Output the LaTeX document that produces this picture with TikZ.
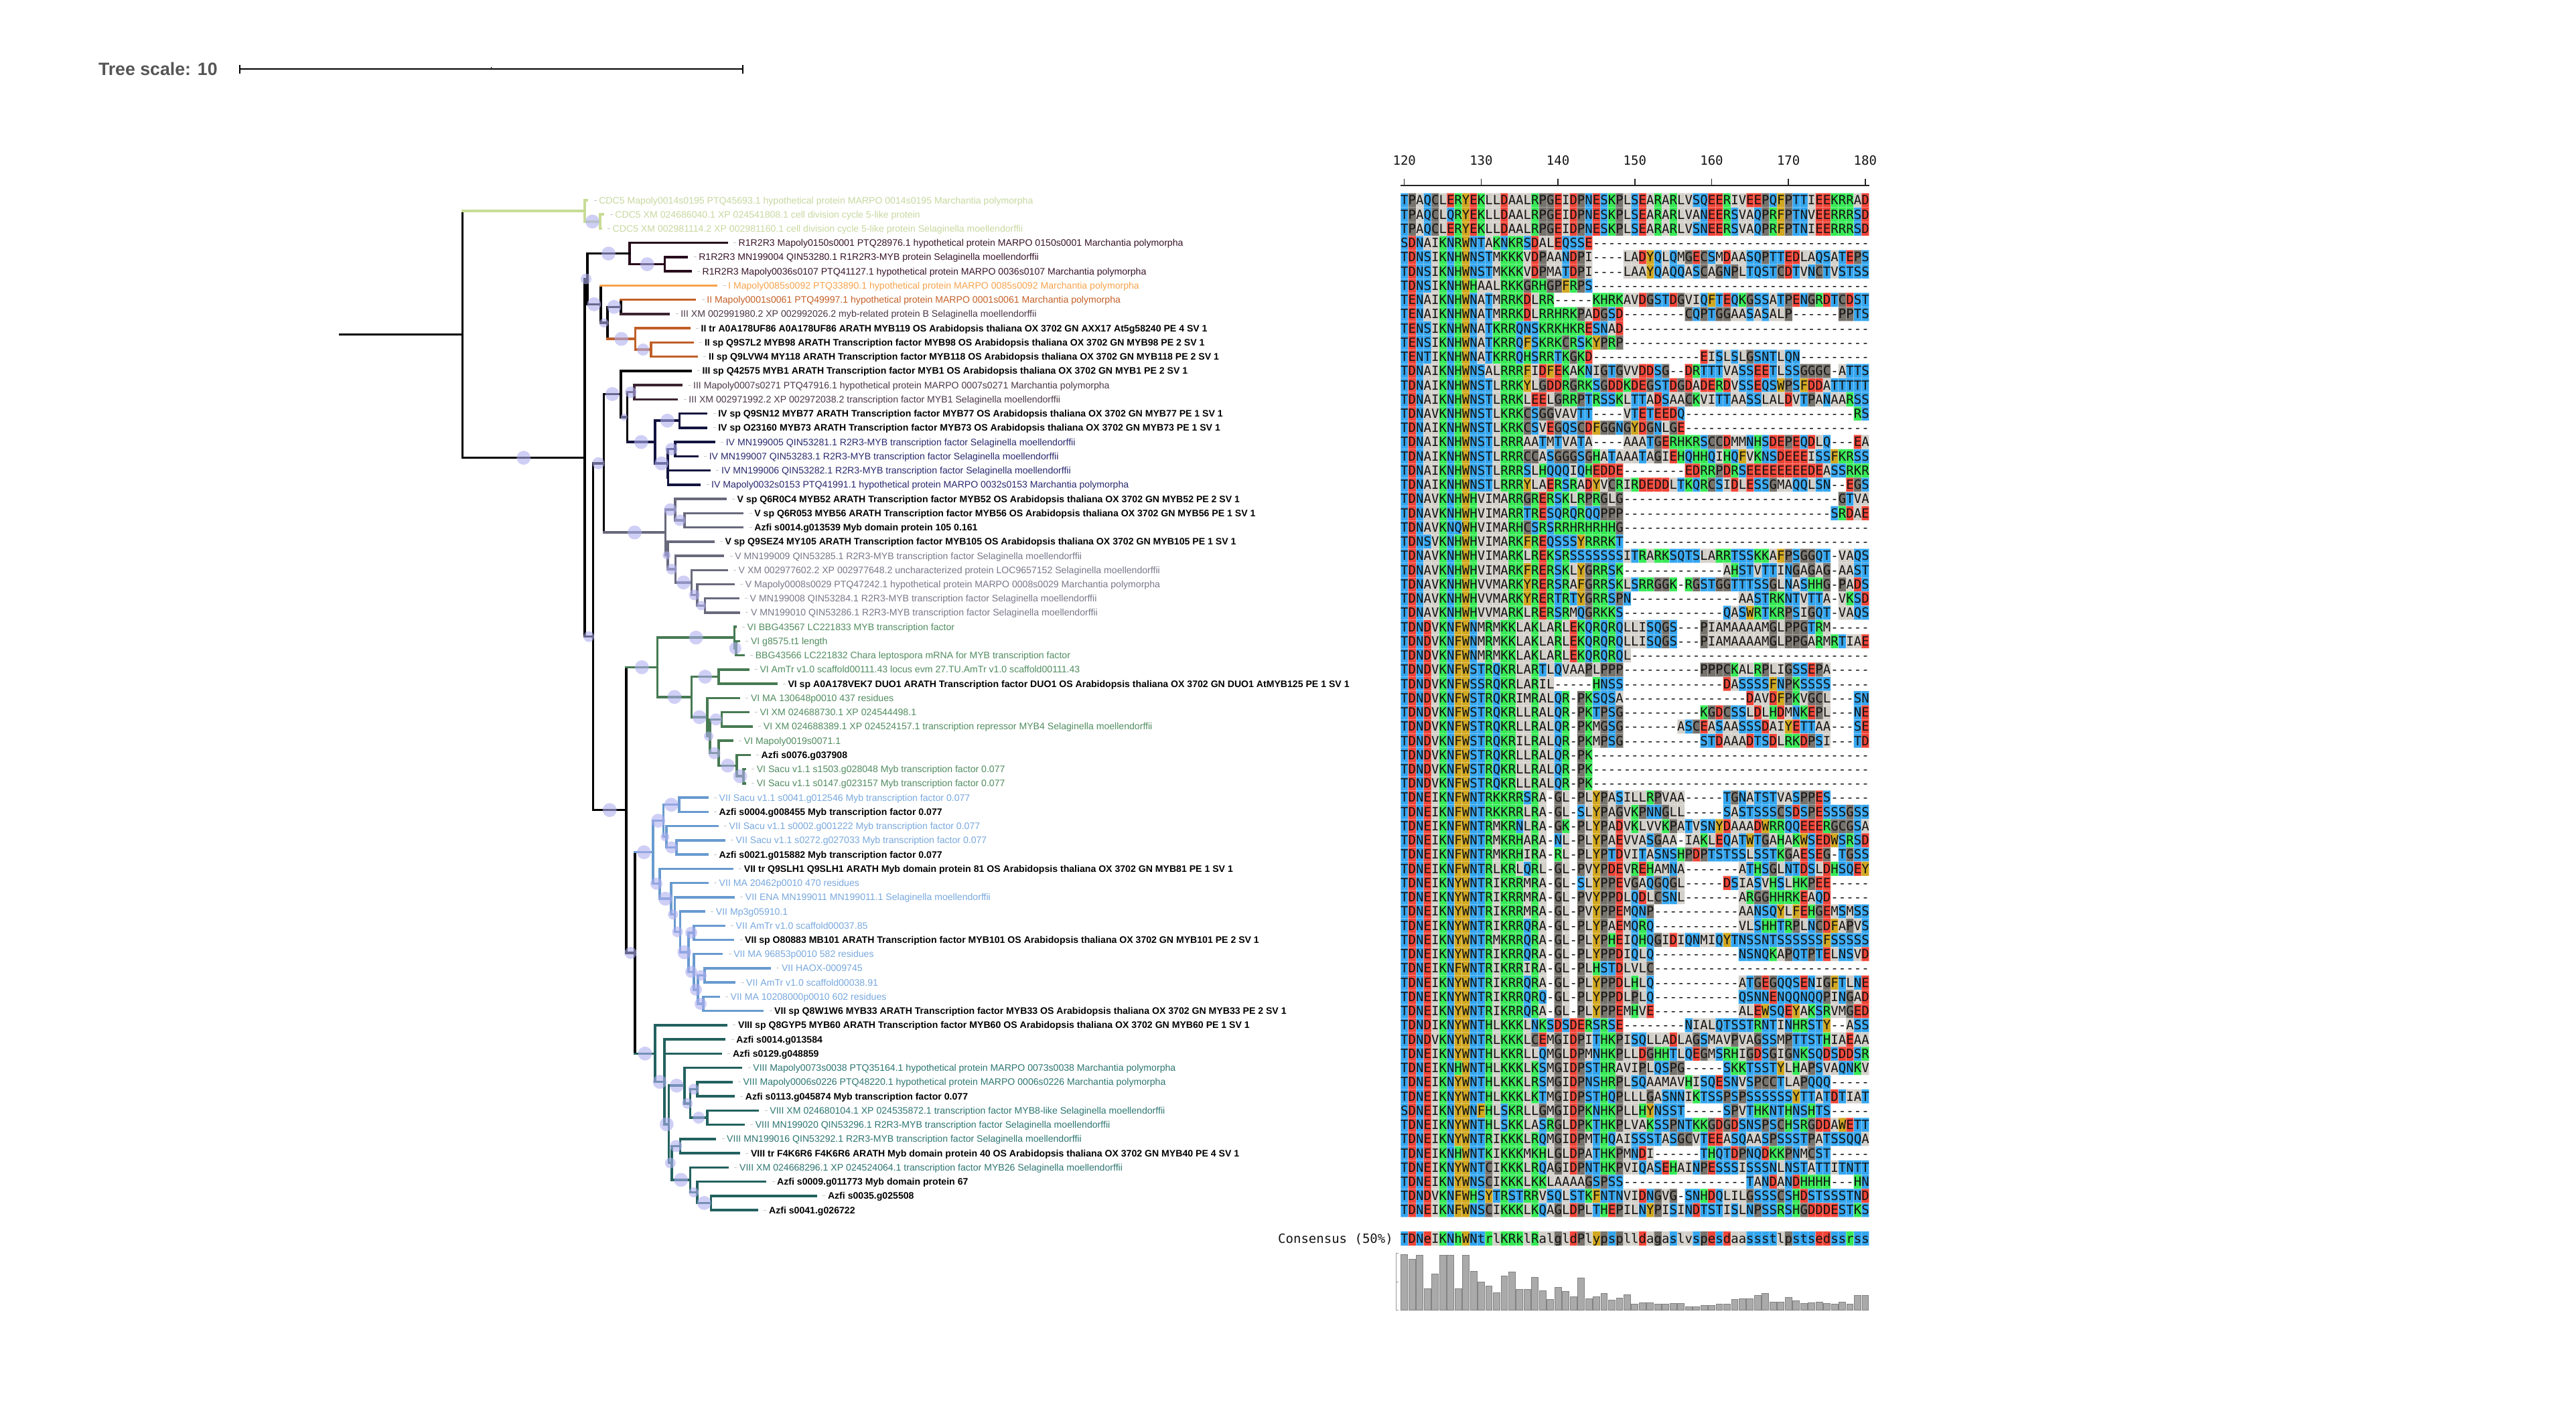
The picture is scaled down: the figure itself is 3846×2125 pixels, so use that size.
\documentclass[tikz,border=0pt]{standalone}
\usepackage{fontspec}
\setmainfont{Liberation Sans}
\newfontfamily\alnfont{DejaVu Sans Mono}
\usetikzlibrary{calc}
\pgfdeclarelayer{cells}
\pgfsetlayers{cells,main}

% branch and label colours of the clades
\definecolor{c5br}{RGB}{200,220,150}
\definecolor{c5lab}{RGB}{200,216,160}
\definecolor{rrbr}{RGB}{40,10,28}
\definecolor{rrlab}{RGB}{55,20,40}
\definecolor{oIc}{RGB}{247,163,76}
\definecolor{oIIc}{RGB}{196,96,40}
\definecolor{iiibr}{RGB}{60,36,50}
\definecolor{iiilab}{RGB}{75,55,70}
\definecolor{iitwo}{RGB}{192,95,40}
\definecolor{ivbr}{RGB}{20,20,64}
\definecolor{ivlab}{RGB}{40,40,110}
\definecolor{vbr}{RGB}{105,105,125}
\definecolor{vlab}{RGB}{120,120,138}
\definecolor{vibr}{RGB}{70,122,82}
\definecolor{vilab}{RGB}{80,140,95}
\definecolor{viibr}{RGB}{104,154,207}
\definecolor{viilab}{RGB}{120,168,222}
\definecolor{viiibr}{RGB}{34,98,95}
\definecolor{viiilab}{RGB}{45,118,114}
\definecolor{suppc}{RGB}{175,175,240}
\definecolor{scalegray}{RGB}{85,85,85}
% residue colours
\definecolor{alnB}{RGB}{52,166,240}
\definecolor{alnR}{RGB}{241,68,55}
\definecolor{alnG}{RGB}{54,234,86}
\definecolor{alnY}{RGB}{210,168,32}
\definecolor{alnL}{RGB}{211,208,202}
\definecolor{alnK}{RGB}{118,114,108}
\definecolor{alntext}{RGB}{20,20,20}
\definecolor{barfill}{RGB}{170,170,170}
\definecolor{barline}{RGB}{130,130,130}

% residue -> colour table
\def\alnmap#1#2{\expandafter\def\csname alncol#1\endcsname{#2}}
\alnmap{S}{alnB}\alnmap{T}{alnB}\alnmap{N}{alnB}\alnmap{Q}{alnB}
\alnmap{D}{alnR}\alnmap{E}{alnR}
\alnmap{K}{alnG}\alnmap{R}{alnG}\alnmap{H}{alnG}
\alnmap{F}{alnY}\alnmap{W}{alnY}\alnmap{Y}{alnY}
\alnmap{A}{alnL}\alnmap{V}{alnL}\alnmap{L}{alnL}\alnmap{I}{alnL}\alnmap{M}{alnL}
\alnmap{P}{alnK}\alnmap{G}{alnK}\alnmap{C}{alnK}
\alnmap{s}{alnB}\alnmap{t}{alnB}\alnmap{n}{alnB}\alnmap{q}{alnB}
\alnmap{d}{alnR}\alnmap{e}{alnR}
\alnmap{k}{alnG}\alnmap{r}{alnG}\alnmap{h}{alnG}
\alnmap{f}{alnY}\alnmap{w}{alnY}\alnmap{y}{alnY}
\alnmap{a}{alnL}\alnmap{v}{alnL}\alnmap{l}{alnL}\alnmap{i}{alnL}\alnmap{m}{alnL}
\alnmap{p}{alnK}\alnmap{g}{alnK}\alnmap{c}{alnK}

% alignment: runs of equal colour are collected per colour and filled
% once at the end; the letters of a row are set in one node.
% \gp{n} inserts n gap columns.
\newcount\alnc
\newcount\alnstart
\def\gp{}
\def\alnnone{none}
\gdef\alnlistalnB{}\gdef\alnlistalnR{}\gdef\alnlistalnG{}
\gdef\alnlistalnY{}\gdef\alnlistalnL{}\gdef\alnlistalnK{}
\def\alnbox#1{\hbox to 11.468pt{\hss#1\hss}}
\def\alnflush{%
  \ifx\alnrun\alnnone\else
    \pgfmathsetmacro\alnxa{\the\alnstart*11.468+2091}%
    \pgfmathsetmacro\alnxb{\the\alnc*11.468+2091}%
    \pgfmathsetmacro\alnya{\alny-10.62}%
    \pgfmathsetmacro\alnyb{\alny+10.62}%
    \expandafter\xdef\csname alnlist\alnrun\endcsname{\csname alnlist\alnrun\endcsname (\alnxa,\alnya) rectangle (\alnxb,\alnyb)}%
  \fi}
\def\alncell#1{%
  \ifcsname alncol#1\endcsname\edef\alnthis{\csname alncol#1\endcsname}\else\def\alnthis{none}\fi
  \ifx\alnthis\alnrun\else\alnflush\global\let\alnrun\alnthis\global\alnstart=\alnc\fi
  \xdef\alntxt{\unexpanded\expandafter{\alntxt}\noexpand\alnbox{#1}}%
  \global\advance\alnc by 1\relax}
\def\alnparse#1{%
  \ifx#1\relax\let\alnnext\relax
  \else\ifx#1\gp\let\alnnext\alngapread
  \else\alncell{#1}\let\alnnext\alnparse\fi\fi
  \alnnext}
\def\alngapread#1{\foreach \alnk in {1,...,#1}{\alncell{-}}\alnparse}
\newcommand\alnrowat[2]{%
  \xdef\alny{#1}\global\alnc=0 \global\alnstart=0 \gdef\alnrun{none}\gdef\alntxt{}%
  \alnparse#2\relax\alnflush
  \node[alnlet,anchor=base west] at (2091,\alny+6.9) {\alntxt};}
\newcommand\alnrow[2]{\pgfmathsetmacro\alnyy{299+(#1-1)*21.24}\alnrowat{\alnyy}{#2}}

% tree helpers
\newcommand\treetip[3]{\coordinate (#1) at (#2,{299+(#3-1)*21.24});}
\newcommand\treenode[4]{\coordinate (#1m) at ($(#3)!.5!(#4)$);\coordinate (#1) at (#2,0 |- #1m);}
\newcommand\nodebar[4]{\draw[#1] (#2 |- #3) -- (#2 |- #4);}
\newcommand\branch[3]{\draw[#1] (#2 |- #3) -- (#3);}
\newcommand\support[3][10.4]{\fill[supp] ($(#2 |- #3)!.5!(#3)$) circle[radius=#1pt];}
\newcommand\leaflabel[3]{%
  \draw[labdash] ([xshift=10pt]#1) -- ([xshift=14pt]#1);
  \node[leaf,#2] at ([xshift=17.5pt,yshift=-5pt]#1) {#3};}

\begin{document}
\begin{tikzpicture}[x=1pt,y=-1pt,
  br/.style={line width=3.5pt,line cap=rect},
  k/.style={br,black},
  c5/.style={br,c5br}, rr/.style={br,rrbr}, oI/.style={br,oIc}, oII/.style={br,oIIc},
  iii/.style={br,iiibr}, ii2/.style={br,iitwo}, iv/.style={br,ivbr}, v/.style={br,vbr},
  vi/.style={br,vibr}, vii/.style={br,viibr}, viii/.style={br,viiibr},
  supp/.style={fill=suppc,fill opacity=.6},
  leaf/.style={anchor=base west,inner sep=0pt,font=\fontsize{14.1}{16}\selectfont},
  bl/.style={font=\fontsize{14.1}{16}\selectfont\bfseries,text=black},
  lc5/.style={text=c5lab}, lrr/.style={text=rrlab}, loI/.style={text=oIc}, loII/.style={text=oIIc},
  liii/.style={text=iiilab}, liv/.style={text=ivlab}, lv/.style={text=vlab},
  lvi/.style={text=vilab}, lvii/.style={text=viilab}, lviii/.style={text=viiilab},
  labdash/.style={line width=1pt,black!22},
  alnlet/.style={font=\alnfont\fontsize{19}{21}\selectfont,inner sep=0pt,anchor=base,text=alntext},
  hbar/.style={fill=barfill,draw=barline,line width=.8pt}]
\useasboundingbox (0,0) rectangle (3846,2125);
\begin{pgfonlayer}{cells}
\fill[white] (0,0) rectangle (3846,2125);
\end{pgfonlayer}

% ---------- tree scale ----------
\node[anchor=base west,inner sep=0pt,text=scalegray,font=\fontsize{26.7}{30}\selectfont\bfseries] (scaletxt) at (146.8,112.6) {Tree scale: 10};
\coordinate (sb0) at (358,103.3);
\coordinate (sb1) at (1108.6,103.3);
\coordinate (sbm) at ($(sb0)!.5!(sb1)$);
\draw[line width=2.2pt] (sb0) -- (sb1);
\draw[line width=2pt] ([yshift=6pt]sb0) -- ([yshift=-7pt]sb0);
\draw[line width=2pt] ([yshift=6pt]sb1) -- ([yshift=-7pt]sb1);
\draw[line width=1.5pt] ([yshift=3.5pt]sbm) -- (sbm);

% ---------- leaves ----------
\treetip{t1}{876.6}{1}\treetip{t2}{900.7}{2}\treetip{t3}{897}{3}
\treetip{t4}{1085}{4}\treetip{t5}{1025.6}{5}\treetip{t6}{1031}{6}
\treetip{t7}{1069.5}{7}\treetip{t8}{1037.7}{8}\treetip{t9}{998.6}{9}
\treetip{t10}{1029}{10}\treetip{t11}{1034.3}{11}\treetip{t12}{1040.4}{12}
\treetip{t13}{1031}{13}\treetip{t14}{1017.4}{14}\treetip{t15}{1010.7}{15}
\treetip{t16}{1054.6}{16}\treetip{t17}{1054.6}{17}\treetip{t18}{1066.1}{18}
\treetip{t19}{1041.1}{19}\treetip{t20}{1059.4}{20}\treetip{t21}{1044.5}{21}
\treetip{t22}{1083}{22}\treetip{t23}{1108.7}{23}\treetip{t24}{1108.7}{24}
\treetip{t25}{1064.8}{25}\treetip{t26}{1079.6}{26}\treetip{t27}{1085}{27}
\treetip{t28}{1095.2}{28}\treetip{t29}{1102}{29}\treetip{t30}{1103.3}{30}
\treetip{t31}{1097.9}{31}\treetip{t32}{1103.3}{32}\treetip{t33}{1110.1}{33}
\treetip{t34}{1116.8}{34}\treetip{t35}{1158.8}{35}\treetip{t36}{1103.3}{36}
\treetip{t37}{1116.8}{37}\treetip{t38}{1122.2}{38}\treetip{t39}{1093.2}{39}
\treetip{t40}{1118.9}{40}\treetip{t41}{1112.1}{41}\treetip{t42}{1112.1}{42}
\treetip{t43}{1056}{43}\treetip{t44}{1056}{44}\treetip{t45}{1070.9}{45}
\treetip{t46}{1081}{46}\treetip{t47}{1056}{47}\treetip{t48}{1093.2}{48}
\treetip{t49}{1056}{49}\treetip{t50}{1095.2}{50}\treetip{t51}{1051.2}{51}
\treetip{t52}{1081}{52}\treetip{t53}{1094.5}{53}\treetip{t54}{1077.6}{54}
\treetip{t55}{1149.3}{55}\treetip{t56}{1096.5}{56}\treetip{t57}{1072.9}{57}
\treetip{t58}{1138.5}{58}\treetip{t59}{1084.4}{59}\treetip{t60}{1081.7}{60}
\treetip{t61}{1076.3}{61}\treetip{t62}{1106.7}{62}\treetip{t63}{1091.8}{63}
\treetip{t64}{1095.2}{64}\treetip{t65}{1131.7}{65}\treetip{t66}{1110.1}{66}
\treetip{t67}{1067.5}{67}\treetip{t68}{1103.3}{68}\treetip{t69}{1086.4}{69}
\treetip{t70}{1142.5}{70}\treetip{t71}{1218.3}{71}\treetip{t72}{1130.4}{72}

% ---------- internal nodes (children first) ----------
\treenode{cB}{896}{t2}{t3}
\treenode{cA}{872.9}{t1}{cB}
\treenode{Rb}{992.5}{t5}{t6}
\treenode{Rn}{940}{t4}{Rb}
\treenode{K}{927.1}{t8}{t9}
\treenode{Lb}{971.8}{t11}{t12}
\treenode{L}{948.6}{t10}{Lb}
\treenode{J}{906.8}{K}{L}
\treenode{I2}{896.8}{t7}{J}
\treenode{P}{877}{Rn}{I2}
\treenode{N5}{947}{t14}{t15}
\treenode{IVa}{1014.6}{t16}{t17}
\treenode{IVc}{1007.9}{t18}{t19}
\treenode{IVd}{997.5}{t20}{t21}
\treenode{IVb}{997}{IVc}{IVd}
\treenode{IV}{978.2}{IVa}{IVb}
\treenode{N4}{936.4}{N5}{IV}
\treenode{N3}{927.1}{t13}{N4}
\treenode{Y1}{1022}{t23}{t24}
\treenode{Y2}{1007.9}{t22}{Y1}
\treenode{Z1}{1052.7}{t29}{t30}
\treenode{Z2}{1041}{t28}{Z1}
\treenode{Z3}{1032.4}{t27}{Z2}
\treenode{Z4}{1008.7}{t26}{Z3}
\treenode{Z5}{997}{t25}{Z4}
\treenode{Vn}{993.6}{Y2}{Z5}
\treenode{M}{901.4}{N3}{Vn}
\treenode{C2}{1099}{t32}{t33}
\treenode{C1}{1096.6}{t31}{C2}
\treenode{E}{1073}{t34}{t35}
\treenode{H}{1077.7}{t37}{t38}
\treenode{G4}{1110}{t41}{t42}
\treenode{G3}{1100}{t40}{G4}
\treenode{G2}{1073}{t39}{G3}
\treenode{G}{1060}{H}{G2}
\treenode{F}{1056}{t36}{G}
\treenode{D}{1032.4}{E}{F}
\treenode{VI}{981.7}{C1}{D}
\treenode{V1}{1014}{t43}{t44}
\treenode{V3}{1010}{t46}{t47}
\treenode{V2b}{995}{t45}{V3}
\treenode{V2}{990.5}{V1}{V2b}
\treenode{W1}{1036}{t52}{t53}
\treenode{W2}{1052}{t55}{t56}
\treenode{W3}{1050}{t57}{t58}
\treenode{W23}{1042}{W2}{W3}
\treenode{W4}{1036}{t54}{W23}
\treenode{W5}{1028}{W1}{W4}
\treenode{W6}{1015.5}{t51}{W5}
\treenode{W7}{1007.4}{t50}{W6}
\treenode{W8}{1002}{t49}{W7}
\treenode{W9}{985}{t48}{W8}
\treenode{VIIa}{975}{V2}{W9}
\treenode{X1}{1041}{t63}{t64}
\treenode{X2}{1056}{t65}{t66}
\treenode{X3}{1030.4}{X1}{X2}
\treenode{X4}{1022}{t62}{X3}
\treenode{X5}{1015.5}{t67}{t68}
\treenode{X6}{1061.5}{t71}{t72}
\treenode{X7}{1041}{t70}{X6}
\treenode{X8}{1030.4}{t69}{X7}
\treenode{X9}{1003}{X5}{X8}
\treenode{X10}{998.6}{X4}{X9}
\treenode{X11}{992}{t60}{X10}
\treenode{VIII}{978}{t59}{X11}
\treenode{T}{948}{VIIa}{VIII}
\treenode{Rr}{935}{VI}{T}
\treenode{Q}{885.4}{M}{Rr}
\treenode{S}{872.9}{P}{Q}
\treenode{root}{690.7}{cA}{S}
\coordinate (stub) at (507.9,0 |- root);

% ---------- vertical bars of the internal nodes ----------
\nodebar{k}{root}{cA}{S}
\nodebar{c5}{cA}{t1}{cB}\nodebar{c5}{cB}{t2}{t3}
\nodebar{k}{S}{P}{Q}\nodebar{k}{P}{Rn}{I2}
\nodebar{rr}{Rn}{t4}{Rb}\nodebar{rr}{Rb}{t5}{t6}
\nodebar{k}{I2}{t7}{J}\nodebar{k}{J}{K}{L}\nodebar{k}{K}{t8}{t9}
\nodebar{ii2}{L}{t10}{Lb}\nodebar{ii2}{Lb}{t11}{t12}
\nodebar{k}{Q}{M}{Rr}\nodebar{k}{M}{N3}{Vn}\nodebar{k}{N3}{t13}{N4}\nodebar{k}{N4}{N5}{IV}
\nodebar{iii}{N5}{t14}{t15}
\nodebar{iv}{IV}{IVa}{IVb}\nodebar{iv}{IVa}{t16}{t17}\nodebar{iv}{IVb}{IVc}{IVd}
\nodebar{iv}{IVc}{t18}{t19}\nodebar{iv}{IVd}{t20}{t21}
\nodebar{v}{Vn}{Y2}{Z5}\nodebar{v}{Y2}{t22}{Y1}\nodebar{v}{Y1}{t23}{t24}
\nodebar{v}{Z5}{t25}{Z4}\nodebar{v}{Z4}{t26}{Z3}\nodebar{v}{Z3}{t27}{Z2}
\nodebar{v}{Z2}{t28}{Z1}\nodebar{v}{Z1}{t29}{t30}
\nodebar{k}{Rr}{VI}{T}
\nodebar{vi}{VI}{C1}{D}\nodebar{vi}{C1}{t31}{C2}\nodebar{vi}{C2}{t32}{t33}
\nodebar{vi}{D}{E}{F}\nodebar{vi}{E}{t34}{t35}\nodebar{vi}{F}{t36}{G}
\nodebar{vi}{G}{H}{G2}\nodebar{vi}{H}{t37}{t38}\nodebar{vi}{G2}{t39}{G3}
\nodebar{vi}{G3}{t40}{G4}\nodebar{vi}{G4}{t41}{t42}
\nodebar{k}{T}{VIIa}{VIII}
\nodebar{vii}{VIIa}{V2}{W9}\nodebar{vii}{V2}{V1}{V2b}\nodebar{vii}{V1}{t43}{t44}
\nodebar{vii}{V2b}{t45}{V3}\nodebar{vii}{V3}{t46}{t47}
\nodebar{vii}{W9}{t48}{W8}\nodebar{vii}{W8}{t49}{W7}\nodebar{vii}{W7}{t50}{W6}
\nodebar{vii}{W6}{t51}{W5}\nodebar{vii}{W5}{W1}{W4}\nodebar{vii}{W1}{t52}{t53}
\nodebar{vii}{W4}{t54}{W23}\nodebar{vii}{W23}{W2}{W3}\nodebar{vii}{W2}{t55}{t56}
\nodebar{vii}{W3}{t57}{t58}
\nodebar{viii}{VIII}{t59}{X11}\nodebar{viii}{X11}{t60}{X10}\nodebar{viii}{X10}{X4}{X9}
\nodebar{viii}{X4}{t62}{X3}\nodebar{viii}{X3}{X1}{X2}\nodebar{viii}{X1}{t63}{t64}
\nodebar{viii}{X2}{t65}{t66}\nodebar{viii}{X9}{X5}{X8}\nodebar{viii}{X5}{t67}{t68}
\nodebar{viii}{X8}{t69}{X7}\nodebar{viii}{X7}{t70}{X6}\nodebar{viii}{X6}{t71}{t72}

% ---------- horizontal branches ----------
\draw[k] (stub) -- (root);
\branch{c5}{root}{cA}\branch{c5}{cA}{t1}\branch{c5}{cA}{cB}\branch{c5}{cB}{t2}\branch{c5}{cB}{t3}
\branch{k}{root}{S}\branch{k}{S}{P}\branch{k}{S}{Q}
\branch{k}{P}{Rn}\branch{rr}{Rn}{t4}\branch{rr}{Rn}{Rb}\branch{rr}{Rb}{t5}\branch{rr}{Rb}{t6}
\branch{k}{P}{I2}\branch{oI}{I2}{t7}\branch{k}{I2}{J}\branch{k}{J}{K}
\branch{oII}{K}{t8}\branch{iii}{K}{t9}
\branch{ii2}{J}{L}\branch{ii2}{L}{t10}\branch{ii2}{L}{Lb}\branch{ii2}{Lb}{t11}\branch{ii2}{Lb}{t12}
\branch{k}{Q}{M}\branch{k}{M}{N3}\branch{k}{N3}{t13}\branch{k}{N3}{N4}
\branch{iii}{N4}{N5}\branch{iii}{N5}{t14}\branch{iii}{N5}{t15}
\branch{iv}{N4}{IV}\branch{iv}{IV}{IVa}\branch{iv}{IVa}{t16}\branch{iv}{IVa}{t17}
\branch{iv}{IV}{IVb}\branch{iv}{IVb}{IVc}\branch{iv}{IVc}{t18}\branch{iv}{IVc}{t19}
\branch{iv}{IVb}{IVd}\branch{iv}{IVd}{t20}\branch{iv}{IVd}{t21}
\branch{v}{M}{Vn}\branch{v}{Vn}{Y2}\branch{v}{Y2}{t22}\branch{v}{Y2}{Y1}\branch{v}{Y1}{t23}\branch{v}{Y1}{t24}
\branch{v}{Vn}{Z5}\branch{v}{Z5}{t25}\branch{v}{Z5}{Z4}\branch{v}{Z4}{t26}\branch{v}{Z4}{Z3}
\branch{v}{Z3}{t27}\branch{v}{Z3}{Z2}\branch{v}{Z2}{t28}\branch{v}{Z2}{Z1}\branch{v}{Z1}{t29}\branch{v}{Z1}{t30}
\branch{k}{Q}{Rr}
\branch{vi}{Rr}{VI}\branch{vi}{VI}{C1}\branch{vi}{C1}{t31}\branch{vi}{C1}{C2}\branch{vi}{C2}{t32}\branch{vi}{C2}{t33}
\branch{vi}{VI}{D}\branch{vi}{D}{E}\branch{vi}{E}{t34}\branch{vi}{E}{t35}\branch{vi}{D}{F}\branch{vi}{F}{t36}
\branch{vi}{F}{G}\branch{vi}{G}{H}\branch{vi}{H}{t37}\branch{vi}{H}{t38}\branch{vi}{G}{G2}\branch{vi}{G2}{t39}
\branch{vi}{G2}{G3}\branch{vi}{G3}{t40}\branch{vi}{G3}{G4}\branch{vi}{G4}{t41}\branch{vi}{G4}{t42}
\branch{k}{Rr}{T}
\branch{vii}{T}{VIIa}\branch{vii}{VIIa}{V2}\branch{vii}{V2}{V1}\branch{vii}{V1}{t43}\branch{vii}{V1}{t44}
\branch{vii}{V2}{V2b}\branch{vii}{V2b}{t45}\branch{vii}{V2b}{V3}\branch{vii}{V3}{t46}\branch{vii}{V3}{t47}
\branch{vii}{VIIa}{W9}\branch{vii}{W9}{t48}\branch{vii}{W9}{W8}\branch{vii}{W8}{t49}\branch{vii}{W8}{W7}
\branch{vii}{W7}{t50}\branch{vii}{W7}{W6}\branch{vii}{W6}{t51}\branch{vii}{W6}{W5}
\branch{vii}{W5}{W1}\branch{vii}{W1}{t52}\branch{vii}{W1}{t53}\branch{vii}{W5}{W4}\branch{vii}{W4}{t54}
\branch{vii}{W4}{W23}\branch{vii}{W23}{W2}\branch{vii}{W2}{t55}\branch{vii}{W2}{t56}
\branch{vii}{W23}{W3}\branch{vii}{W3}{t57}\branch{vii}{W3}{t58}
\branch{viii}{T}{VIII}\branch{viii}{VIII}{t59}\branch{viii}{VIII}{X11}
\branch{viii}{X11}{t60}\branch{viii}{X11}{t61}\branch{viii}{X11}{X10}
\branch{viii}{X10}{X4}\branch{viii}{X4}{t62}\branch{viii}{X4}{X3}\branch{viii}{X3}{X1}\branch{viii}{X1}{t63}\branch{viii}{X1}{t64}
\branch{viii}{X3}{X2}\branch{viii}{X2}{t65}\branch{viii}{X2}{t66}
\branch{viii}{X10}{X9}\branch{viii}{X9}{X5}\branch{viii}{X5}{t67}\branch{viii}{X5}{t68}
\branch{viii}{X9}{X8}\branch{viii}{X8}{t69}\branch{viii}{X8}{X7}\branch{viii}{X7}{t70}\branch{viii}{X7}{X6}
\branch{viii}{X6}{t71}\branch{viii}{X6}{t72}

% ---------- support circles ----------
\support{root}{S}\support{cA}{cB}
\support{P}{Rn}\support{Rn}{Rb}\support[8]{S}{P}\support{P}{I2}\support[6.8]{I2}{J}
\support{J}{K}\support{J}{L}\support[9]{L}{Lb}
\support[9]{Q}{M}\support{M}{N3}\support[5.4]{N3}{N4}\support[8.6]{N4}{N5}\support{N4}{IV}
\support{IV}{IVa}\support{IV}{IVb}\support[9.3]{IVb}{IVc}
\support{M}{Vn}\support[9.3]{Vn}{Y2}\support[8.5]{Y2}{Y1}\support[6]{Vn}{Z5}\support[8]{Z5}{Z4}
\support{Z4}{Z3}\support[8]{Z3}{Z2}\support[7]{Z2}{Z1}
\support[8]{S}{Q}\support{Q}{Rr}\support{Rr}{VI}\support{VI}{C1}\support[9]{C1}{C2}
\support{VI}{D}\support{D}{E}\support{D}{F}\support[7]{F}{G}\support[9]{G}{H}\support[9]{G}{G2}
\support{G2}{G3}\support{G3}{G4}
\support[9]{Rr}{T}\support{T}{VIIa}\support{VIIa}{V2}\support{V2}{V1}\support[6.5]{V2}{V2b}\support[9]{V2b}{V3}
\support[9]{VIIa}{W9}\support{W9}{W8}\support[7.5]{W8}{W7}\support[8]{W7}{W6}\support{W6}{W5}
\support[9]{W5}{W1}\support[9]{W5}{W4}\support[9]{W4}{W23}\support[8]{W23}{W2}\support[9]{W23}{W3}
\support{T}{VIII}\support{VIII}{X11}\support{X11}{X10}\support{X10}{X4}\support[8]{X4}{X3}
\support[8]{X3}{X1}\support[9]{X3}{X2}\support[8]{X10}{X9}\support[9]{X9}{X5}\support{X9}{X8}
\support[7.5]{X8}{X7}\support{X7}{X6}

% ---------- leaf labels ----------
\leaflabel{t1}{lc5}{CDC5 Mapoly0014s0195 PTQ45693.1 hypothetical protein MARPO 0014s0195 Marchantia polymorpha}
\leaflabel{t2}{lc5}{CDC5 XM 024686040.1 XP 024541808.1 cell division cycle 5-like protein}
\leaflabel{t3}{lc5}{CDC5 XM 002981114.2 XP 002981160.1 cell division cycle 5-like protein Selaginella moellendorffii}
\leaflabel{t4}{lrr}{R1R2R3 Mapoly0150s0001 PTQ28976.1 hypothetical protein MARPO 0150s0001 Marchantia polymorpha}
\leaflabel{t5}{lrr}{R1R2R3 MN199004 QIN53280.1 R1R2R3-MYB protein Selaginella moellendorffii}
\leaflabel{t6}{lrr}{R1R2R3 Mapoly0036s0107 PTQ41127.1 hypothetical protein MARPO 0036s0107 Marchantia polymorpha}
\leaflabel{t7}{loI}{I Mapoly0085s0092 PTQ33890.1 hypothetical protein MARPO 0085s0092 Marchantia polymorpha}
\leaflabel{t8}{loII}{II Mapoly0001s0061 PTQ49997.1 hypothetical protein MARPO 0001s0061 Marchantia polymorpha}
\leaflabel{t9}{liii}{III XM 002991980.2 XP 002992026.2 myb-related protein B Selaginella moellendorffii}
\leaflabel{t10}{bl}{II tr A0A178UF86 A0A178UF86 ARATH MYB119 OS Arabidopsis thaliana OX 3702 GN AXX17 At5g58240 PE 4 SV 1}
\leaflabel{t11}{bl}{II sp Q9S7L2 MYB98 ARATH Transcription factor MYB98 OS Arabidopsis thaliana OX 3702 GN MYB98 PE 2 SV 1}
\leaflabel{t12}{bl}{II sp Q9LVW4 MY118 ARATH Transcription factor MYB118 OS Arabidopsis thaliana OX 3702 GN MYB118 PE 2 SV 1}
\leaflabel{t13}{bl}{III sp Q42575 MYB1 ARATH Transcription factor MYB1 OS Arabidopsis thaliana OX 3702 GN MYB1 PE 2 SV 1}
\leaflabel{t14}{liii}{III Mapoly0007s0271 PTQ47916.1 hypothetical protein MARPO 0007s0271 Marchantia polymorpha}
\leaflabel{t15}{liii}{III XM 002971992.2 XP 002972038.2 transcription factor MYB1 Selaginella moellendorffii}
\leaflabel{t16}{bl}{IV sp Q9SN12 MYB77 ARATH Transcription factor MYB77 OS Arabidopsis thaliana OX 3702 GN MYB77 PE 1 SV 1}
\leaflabel{t17}{bl}{IV sp O23160 MYB73 ARATH Transcription factor MYB73 OS Arabidopsis thaliana OX 3702 GN MYB73 PE 1 SV 1}
\leaflabel{t18}{liv}{IV MN199005 QIN53281.1 R2R3-MYB transcription factor Selaginella moellendorffii}
\leaflabel{t19}{liv}{IV MN199007 QIN53283.1 R2R3-MYB transcription factor Selaginella moellendorffii}
\leaflabel{t20}{liv}{IV MN199006 QIN53282.1 R2R3-MYB transcription factor Selaginella moellendorffii}
\leaflabel{t21}{liv}{IV Mapoly0032s0153 PTQ41991.1 hypothetical protein MARPO 0032s0153 Marchantia polymorpha}
\leaflabel{t22}{bl}{V sp Q6R0C4 MYB52 ARATH Transcription factor MYB52 OS Arabidopsis thaliana OX 3702 GN MYB52 PE 2 SV 1}
\leaflabel{t23}{bl}{V sp Q6R053 MYB56 ARATH Transcription factor MYB56 OS Arabidopsis thaliana OX 3702 GN MYB56 PE 1 SV 1}
\leaflabel{t24}{bl}{Azfi s0014.g013539 Myb domain protein 105 0.161}
\leaflabel{t25}{bl}{V sp Q9SEZ4 MY105 ARATH Transcription factor MYB105 OS Arabidopsis thaliana OX 3702 GN MYB105 PE 1 SV 1}
\leaflabel{t26}{lv}{V MN199009 QIN53285.1 R2R3-MYB transcription factor Selaginella moellendorffii}
\leaflabel{t27}{lv}{V XM 002977602.2 XP 002977648.2 uncharacterized protein LOC9657152 Selaginella moellendorffii}
\leaflabel{t28}{lv}{V Mapoly0008s0029 PTQ47242.1 hypothetical protein MARPO 0008s0029 Marchantia polymorpha}
\leaflabel{t29}{lv}{V MN199008 QIN53284.1 R2R3-MYB transcription factor Selaginella moellendorffii}
\leaflabel{t30}{lv}{V MN199010 QIN53286.1 R2R3-MYB transcription factor Selaginella moellendorffii}
\leaflabel{t31}{lvi}{VI BBG43567 LC221833 MYB transcription factor}
\leaflabel{t32}{lvi}{VI g8575.t1 length}
\leaflabel{t33}{lvi}{BBG43566 LC221832 Chara leptospora mRNA for MYB transcription factor}
\leaflabel{t34}{lvi}{VI AmTr v1.0 scaffold00111.43 locus evm 27.TU.AmTr v1.0 scaffold00111.43}
\leaflabel{t35}{bl}{VI sp A0A178VEK7 DUO1 ARATH Transcription factor DUO1 OS Arabidopsis thaliana OX 3702 GN DUO1 AtMYB125 PE 1 SV 1}
\leaflabel{t36}{lvi}{VI MA 130648p0010 437 residues}
\leaflabel{t37}{lvi}{VI XM 024688730.1 XP 024544498.1}
\leaflabel{t38}{lvi}{VI XM 024688389.1 XP 024524157.1 transcription repressor MYB4 Selaginella moellendorffii}
\leaflabel{t39}{lvi}{VI Mapoly0019s0071.1}
\leaflabel{t40}{bl}{Azfi s0076.g037908}
\leaflabel{t41}{lvi}{VI Sacu v1.1 s1503.g028048 Myb transcription factor 0.077}
\leaflabel{t42}{lvi}{VI Sacu v1.1 s0147.g023157 Myb transcription factor 0.077}
\leaflabel{t43}{lvii}{VII Sacu v1.1 s0041.g012546 Myb transcription factor 0.077}
\leaflabel{t44}{bl}{Azfi s0004.g008455 Myb transcription factor 0.077}
\leaflabel{t45}{lvii}{VII Sacu v1.1 s0002.g001222 Myb transcription factor 0.077}
\leaflabel{t46}{lvii}{VII Sacu v1.1 s0272.g027033 Myb transcription factor 0.077}
\leaflabel{t47}{bl}{Azfi s0021.g015882 Myb transcription factor 0.077}
\leaflabel{t48}{bl}{VII tr Q9SLH1 Q9SLH1 ARATH Myb domain protein 81 OS Arabidopsis thaliana OX 3702 GN MYB81 PE 1 SV 1}
\leaflabel{t49}{lvii}{VII MA 20462p0010 470 residues}
\leaflabel{t50}{lvii}{VII ENA MN199011 MN199011.1 Selaginella moellendorffii}
\leaflabel{t51}{lvii}{VII Mp3g05910.1}
\leaflabel{t52}{lvii}{VII AmTr v1.0 scaffold00037.85}
\leaflabel{t53}{bl}{VII sp O80883 MB101 ARATH Transcription factor MYB101 OS Arabidopsis thaliana OX 3702 GN MYB101 PE 2 SV 1}
\leaflabel{t54}{lvii}{VII MA 96853p0010 582 residues}
\leaflabel{t55}{lvii}{VII HAOX-0009745}
\leaflabel{t56}{lvii}{VII AmTr v1.0 scaffold00038.91}
\leaflabel{t57}{lvii}{VII MA 10208000p0010 602 residues}
\leaflabel{t58}{bl}{VII sp Q8W1W6 MYB33 ARATH Transcription factor MYB33 OS Arabidopsis thaliana OX 3702 GN MYB33 PE 2 SV 1}
\leaflabel{t59}{bl}{VIII sp Q8GYP5 MYB60 ARATH Transcription factor MYB60 OS Arabidopsis thaliana OX 3702 GN MYB60 PE 1 SV 1}
\leaflabel{t60}{bl}{Azfi s0014.g013584}
\leaflabel{t61}{bl}{Azfi s0129.g048859}
\leaflabel{t62}{lviii}{VIII Mapoly0073s0038 PTQ35164.1 hypothetical protein MARPO 0073s0038 Marchantia polymorpha}
\leaflabel{t63}{lviii}{VIII Mapoly0006s0226 PTQ48220.1 hypothetical protein MARPO 0006s0226 Marchantia polymorpha}
\leaflabel{t64}{bl}{Azfi s0113.g045874 Myb transcription factor 0.077}
\leaflabel{t65}{lviii}{VIII XM 024680104.1 XP 024535872.1 transcription factor MYB8-like Selaginella moellendorffii}
\leaflabel{t66}{lviii}{VIII MN199020 QIN53296.1 R2R3-MYB transcription factor Selaginella moellendorffii}
\leaflabel{t67}{lviii}{VIII MN199016 QIN53292.1 R2R3-MYB transcription factor Selaginella moellendorffii}
\leaflabel{t68}{bl}{VIII tr F4K6R6 F4K6R6 ARATH Myb domain protein 40 OS Arabidopsis thaliana OX 3702 GN MYB40 PE 4 SV 1}
\leaflabel{t69}{lviii}{VIII XM 024668296.1 XP 024524064.1 transcription factor MYB26 Selaginella moellendorffii}
\leaflabel{t70}{bl}{Azfi s0009.g011773 Myb domain protein 67}
\leaflabel{t71}{bl}{Azfi s0035.g025508}
\leaflabel{t72}{bl}{Azfi s0041.g026722}

% ---------- alignment ruler ----------
\coordinate (ax0) at (2091,276.7);
\coordinate (ax1) at (2790.5,276.7);
\draw[line width=1.6pt,black!85] (ax0) -- (ax1);
\foreach \n [count=\i from 0] in {120,130,...,180}{
  \draw[line width=1.4pt,black!85] (2096.734+\i*114.68,266.5) -- (2096.734+\i*114.68,276.7);
  \node[alnlet] at (2096.734+\i*114.68,246.9) {\n};
}

% ---------- alignment ----------
\alnrow{1}{TPAQCLERYEKLLDAALRPGEIDPNESKPLSEARARLVSQEERIVEEPQFPTTIEEKRRAD}
\alnrow{2}{TPAQCLQRYEKLLDAALRPGEIDPNESKPLSEARARLVANEERSVAQPRFPTNVEERRRSD}
\alnrow{3}{TPAQCLERYEKLLDAALRPGEIDPNESKPLSEARARLVSNEERSVAQPRFPTNIEERRRSD}
\alnrow{4}{SDNAIKNRWNTAKNKRSDALEQSSE\gp{36}}
\alnrow{5}{TDNSIKNHWNSTMKKKVDPAANDPI\gp{4}LADYQLQMGECSMDAASQPTTEDLAQSATEPS}
\alnrow{6}{TDNSIKNHWNSTMKKKVDPMATDPI\gp{4}LAAYQAQQASCAGNPLTQSTCDTVNCTVSTSS}
\alnrow{7}{TDNSIKNHWHAALRKKGRHGPFRPS\gp{36}}
\alnrow{8}{TENAIKNHWNATMRRKDLRR\gp{5}KHRKAVDGSTDGVIQFTEQKGSSATPENGRDTCDST}
\alnrow{9}{TENAIKNHWNATMRRKDLRRHRKPADGSD\gp{8}CQPTGGAASASALP\gp{6}PPTS}
\alnrow{10}{TENSIKNHWNATKRRQNSKRKHKRESNAD\gp{32}}
\alnrow{11}{TENSIKNHWNATKRRQFSKRKCRSKYPRP\gp{32}}
\alnrow{12}{TENTIKNHWNATKRRQHSRRTKGKD\gp{14}EISLSLGSNTLQN\gp{9}}
\alnrow{13}{TDNAIKNHWNSALRRRFIDFEKAKNIGTGVVDDSG--DRTTTVASSEETLSSGGGC-ATTS}
\alnrow{14}{TDNAIKNHWNSTLRRKYLGDDRGRKSGDDKDEGSTDGDADERDVSSEQSWPSFDDATTTTT}
\alnrow{15}{TDNAIKNHWNSTLRRKLEELGRRPTRSSKLTTADSAACKVITTAASSLALDVTPANAARSS}
\alnrow{16}{TDNAVKNHWNSTLKRKCSGGVAVTT\gp{4}VTETEEDQ\gp{22}RS}
\alnrow{17}{TDNAIKNHWNSTLKRKCSVEGQSCDFGGNGYDGNLGE\gp{24}}
\alnrow{18}{TDNAIKNHWNSTLRRRAATMTVATA\gp{4}AAATGERHKRSCCDMMNHSDEPEQDLQ---EA}
\alnrow{19}{TDNAIKNHWNSTLRRRCCASGGGSGHATAAATAGIEHQHHQIHQFVKNSDEEEISSFKRSS}
\alnrow{20}{TDNAIKNHWNSTLRRRSLHQQQIQHEDDE\gp{8}EDRRPDRSEEEEEEEEDEASSRKR}
\alnrow{21}{TDNAIKNHWNSTLRRRYLAERSRADYVCRIRDEDDLTKQRCSIDLESSGMAQQLSN--EGS}
\alnrow{22}{TDNAVKNHWHVIMARRGRERSKLRPRGLG\gp{28}GTVA}
\alnrow{23}{TDNAVKNHWHVIMARRTRESQRQRQQPPP\gp{27}SRDAE}
\alnrow{24}{TDNAVKNQWHVIMARHCSRSRRHRHRHHG\gp{32}}
\alnrow{25}{TDNSVKNHWHVIMARKFREQSSSYRRRKT\gp{32}}
\alnrow{26}{TDNAVKNHWHVIMARKLREKSRSSSSSSSITRARKSQTSLARRTSSKKAFPSGGQT-VAQS}
\alnrow{27}{TDNAVKNHWHVIMARKFRERSKLYGRRSK\gp{13}AHSTVTTINGAGAG-AAST}
\alnrow{28}{TDNAVKNHWHVVMARKYRERSRAFGRRSKLSRRGGK-RGSTGGTTTSSGLNASHHG-PADS}
\alnrow{29}{TDNAVKNHWHVVMARKYRERTRTYGRRSPN\gp{14}AASTRKNTVTTA-VKSD}
\alnrow{30}{TDNAVKNHWHVVMARKLRERSRMQGRKKS\gp{13}QASWRTKRPSIGQT-VAQS}
\alnrow{31}{TDNDVKNFWNMRMKKLAKLARLEKQRQRQLLISQGS---PIAMAAAAMGLPPGTRM\gp{5}}
\alnrow{32}{TDNDVKNFWNMRMKKLAKLARLEKQRQRQLLISQGS---PIAMAAAAMGLPPGARMRTIAE}
\alnrow{33}{TDNDVKNFWNMRMKKLAKLARLEKQRQRQL\gp{31}}
\alnrow{34}{TDNDVKNFWSTRQKRLARTLQVAAPLPPP\gp{10}PPPCKALRPLIGSSEPA\gp{5}}
\alnrow{35}{TDNDVKNFWSSRQKRLARIL\gp{5}HNSS\gp{13}DASSSSFNPKSSSS\gp{5}}
\alnrow{36}{TDNDVKNFWSTRQKRIMRALQR-PKSQSA\gp{16}DAVDFPKVGCL---SN}
\alnrow{37}{TDNDVKNFWSTRQKRLLRALQR-PKTPSG\gp{10}KGDCSSLDLHDMNKEPL---NE}
\alnrow{38}{TDNDVKNFWSTRQKRLLRALQR-PKMGSG\gp{7}ASCEASAASSSDAIYETTAA---SE}
\alnrow{39}{TDNDVKNFWSTRQKRILRALQR-PKMPSG\gp{10}STDAAADTSDLRKDPSI---TD}
\alnrow{40}{TDNDVKNFWSTRQKRLLRALQR-PK\gp{36}}
\alnrow{41}{TDNDVKNFWSTRQKRLLRALQR-PK\gp{36}}
\alnrow{42}{TDNDVKNFWSTRQKRLLRALQR-PK\gp{36}}
\alnrow{43}{TDNEIKNFWNTRKKRRSRA-GL-PLYPASILLRPVAA\gp{5}TGNATSTVASPPES\gp{5}}
\alnrow{44}{TDNEIKNFWNTRKKRRLRA-GL-SLYPAGVKPNNGLL\gp{5}SASTSSSCSDSPESSSGSS}
\alnrow{45}{TDNEIKNFWNTRMKRNLRA-GK-PLYPADVKLVVKPATVSNYDAAADWRRQQEEERGCGSA}
\alnrow{46}{TDNEIKNFWNTRMKRHARA-NL-PLYPAEVVASGAA-IAKLEQATWTGAHAKWSEDWSRSD}
\alnrow{47}{TDNEIKNFWNTRMKRHIRA-RL-PLYPTDVITASNSHPDPTSTSSLSSTKGAESEG-TGSS}
\alnrow{48}{TDNEIKNFWNTRLKRLQRL-GL-PVYPDEVREHAMNA\gp{7}ATHSGLNTDSLDHSQEY}
\alnrow{49}{TDNEIKNYWNTRIKRRMRA-GL-SLYPPEVGAQGQGL\gp{5}DSIASVHSLHKPEE\gp{5}}
\alnrow{50}{TDNEIKNYWNTRIKRRMRA-GL-PVYPPDLQDLCSNL\gp{7}ARGGHHRKEAQD\gp{5}}
\alnrow{51}{TDNEIKNYWNTRIKRRMRA-GL-PVYPPEMQNP\gp{11}AANSQYLFEHGEMSMSS}
\alnrow{52}{TDNEIKNYWNTRIKRRQRA-GL-PLYPAEMQRQ\gp{11}VLSHHTRPLNCDFAPVS}
\alnrow{53}{TDNEIKNYWNTRMKRRQRA-GL-PLYPHEIQHQGIDIQNMIQYTNSSNTSSSSSSFSSSSS}
\alnrow{54}{TDNEIKNYWNTRIKRRQRA-GL-PLYPPDIQLQ\gp{11}NSNQKAPQTPTELNSVD}
\alnrow{55}{TDNEIKNFWNTRIKRRIRA-GL-PLHSTDLVLC\gp{28}}
\alnrow{56}{TDNEIKNYWNTRIKRRQRA-GL-PLYPPDLHLQ\gp{11}ATGEGQQSENIGFTLNE}
\alnrow{57}{TDNEIKNYWNTRIKRRQRQ-GL-PLYPPDLPLQ\gp{11}QSNNENQQNQQPINGAD}
\alnrow{58}{TDNEIKNYWNTRIKRRQRA-GL-PLYPPEMHVE\gp{11}ALEWSQEYAKSRVMGED}
\alnrow{59}{TDNDIKNYWNTHLKKKLNKSDSDERSRSE\gp{8}NIALQTSSTRNTINHRSTY--ASS}
\alnrow{60}{TDNDVKNYWNTRLKKKLCEMGIDPITHKPISQLLADLAGSMAVPVAGSSMPTTSTHIAEAA}
\alnrow{61}{TDNEIKNYWNTHLKKRLLQMGLDPMNHKPLLDGHHTLQEGMSRHIGDSGIGNKSQDSDDSR}
\alnrow{62}{TDNEIKNHWNTHLKKKLKSMGIDPSTHRAVIPLQSPG\gp{5}SKKTSSTYLHAPSVAQNKV}
\alnrow{63}{TDNEIKNYWNTHLKKKLRSMGIDPNSHRPLSQAAMAVHISQESNVSPCCTLAPQQQ\gp{5}}
\alnrow{64}{TDNEIKNYWNTHLKKKLKTMGIDPSTHQPLLLGASNNIKTSSPSPSSSSSSYTTATDTIAT}
\alnrow{65}{SDNEIKNYWNFHLSKRLLGMGIDPKNHKPLLHYNSST\gp{5}SPVTHKNTHNSHTS\gp{5}}
\alnrow{66}{TDNEIKNYWNTHLSKKLASRGLDPKTHKPLVAKSSPNTKKGDGDSNSPSCHSRGDDAWETT}
\alnrow{67}{TDNEIKNYWNTRIKKKLRQMGIDPMTHQAISSSTASGCVTEEASQAASPSSSTPATSSQQA}
\alnrow{68}{TDNEIKNHWNTKIKKKMKHLGLDPATHKPMNDI\gp{6}THQTDPNQDKKPNMCST\gp{5}}
\alnrow{69}{TDNEIKNYWNTCIKKKLRQAGIDPNTHKPVIQASEHAINPESSSISSSNLNSTATTITNTT}
\alnrow{70}{TDNEIKNYWNSCIKKKLKKLAAAAGSPSS\gp{16}TANDANDHHHH---HN}
\alnrow{71}{TDNDVKNFWHSYTRSTRRVSQLSTKFNTNVIDNGVG-SNHDQLILGSSSCSHDSTSSSTND}
\alnrow{72}{TDNEIKNFWNSCIKKKLKQAGLDPLTHEPILNYPISINDTSTISLNPSSRSHGDDDESTKS}

% ---------- consensus ----------
\node[alnlet,anchor=base east] (constxt) at (2080,1856.4) {Consensus (50\%)};
\alnrowat{1849.5}{TDNeIKNhWNtrlKRklRalgldPlypsplldagaslvspesdaassstlpstsedssrss}

% ---------- residue cells and their grid ----------
\begin{pgfonlayer}{cells}
\path[fill=alnB] \alnlistalnB;
\path[fill=alnR] \alnlistalnR;
\path[fill=alnG] \alnlistalnG;
\path[fill=alnY] \alnlistalnY;
\path[fill=alnL] \alnlistalnL;
\path[fill=alnK] \alnlistalnK;
\draw[white,opacity=.35,line width=.6pt]
  \foreach \c in {0,...,61}{(2091+\c*11.468,288.38) -- (2091+\c*11.468,1817.66)}
  \foreach \r in {0,...,72}{(2091,288.38+\r*21.24) -- (2790.5,288.38+\r*21.24)}
  \foreach \c in {0,...,61}{(2091+\c*11.468,1838.88) -- (2091+\c*11.468,1860.12)};
\end{pgfonlayer}

% ---------- conservation histogram ----------
\coordinate (hb0) at (2084.6,1871.7);
\coordinate (hb1) at (2084.6,1956.7);
\draw[line width=1pt,black!40] ([xshift=3pt]hb0) -- (hb0) -- (hb1) -- ([xshift=3pt]hb1);
\draw[line width=1pt,black!40] ($(hb0)!.5!(hb1)$) -- ++(3,0);
\foreach \h [count=\i from 0] in {880,900,883,1032,968,883,883,1032,883,955,1003,1021,1050,975,958,1036,1036,982,1042,1081,1028,1046,1068,985,1078,1068,1054,1085,1075,1060,1103,1097,1097,1103,1103,1100,1100,1115,1115,1107,1107,1103,1103,1081,1078,1078,1063,1054,1092,1092,1072,1088,1099,1096,1093,1099,1103,1093,1103,1063,1063}{
  \path[hbar] (2091+\i*11.468+0.8,1956) rectangle (2091+\i*11.468+10.668,1580+\h/3);
}
\end{tikzpicture}
\end{document}
